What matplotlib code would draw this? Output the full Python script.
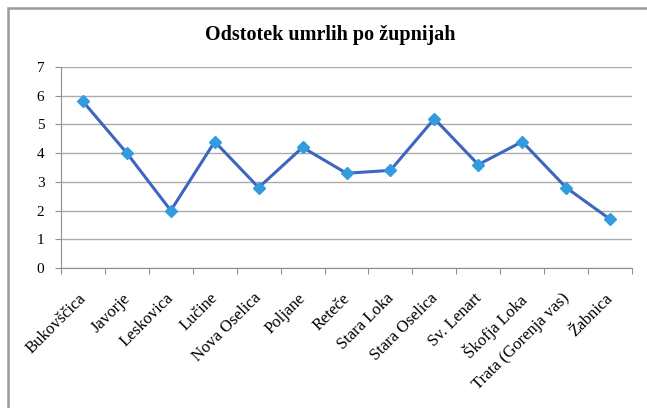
import matplotlib
matplotlib.use("Agg")
import matplotlib.pyplot as plt
import matplotlib.transforms as mtransforms
from matplotlib.patches import Rectangle
import numpy as np

categories = ["Bukovščica", "Javorje", "Leskovica", "Lučine", "Nova Oselica", "Poljane",
              "Reteče", "Stara Loka", "Stara Oselica", "Sv. Lenart", "Škofja Loka",
              "Trata (Gorenja vas)", "Žabnica"]
values = [5.8, 4.0, 2.0, 4.4, 2.8, 4.2, 3.3, 3.4, 5.2, 3.6, 4.4, 2.8, 1.7]
yticks = [0, 1, 2, 3, 4, 5, 6, 7]
title = "Odstotek umrlih po župnijah"

plt.rcParams['font.family'] = ['Liberation Serif', 'DejaVu Serif']

fig = plt.figure(figsize=(6.47, 4.08), dpi=100)
fig.patches.append(Rectangle((8/647, -0.1), 1.0, 1 - 8/408 + 0.1, transform=fig.transFigure,
                             fill=False, edgecolor='#9a9a9a', linewidth=1.8))
ax = fig.add_axes([61/647, 1 - 268/408, (632 - 61)/647, (268 - 67)/408])

x = np.arange(len(categories))
ax.plot(x, values, color='#3D66BE', linewidth=2.2, marker='D', markersize=6,
        markerfacecolor='#329CDE', markeredgecolor='#329CDE', zorder=3)

ax.set_xlim(-0.5, len(categories) - 0.5)
ax.set_ylim(0, 7)
ax.set_yticks(yticks)
ax.set_yticklabels([str(t) for t in yticks], fontsize=11)
ax.yaxis.grid(True, color='#ababab', linewidth=1)
ax.set_axisbelow(True)

ax.set_xticks(np.arange(len(categories) + 1) - 0.5)
ax.set_xticklabels([])
ax.set_xticks(x, minor=True)
ax.set_xticklabels(categories, minor=True, rotation=45, ha='right', va='top',
                   rotation_mode='anchor', fontsize=12)
ax.tick_params(axis='x', which='minor', length=0, pad=16)
ax.tick_params(axis='x', which='major', length=4, color='#909090', direction='out')
ax.tick_params(axis='y', length=4, color='#909090', pad=8)
offset = mtransforms.ScaledTranslation(-5/100, 0, fig.dpi_scale_trans)
for lbl in ax.xaxis.get_minorticklabels():
    lbl.set_transform(lbl.get_transform() + offset)

for s in ['top', 'right']:
    ax.spines[s].set_visible(False)
ax.spines['left'].set_color('#909090')
ax.spines['bottom'].set_color('#909090')

fig.text(330/647, 1 - 35/408, title, ha='center', va='center', fontsize=14.5, fontweight='bold')

fig.savefig("out.png", dpi=100)
